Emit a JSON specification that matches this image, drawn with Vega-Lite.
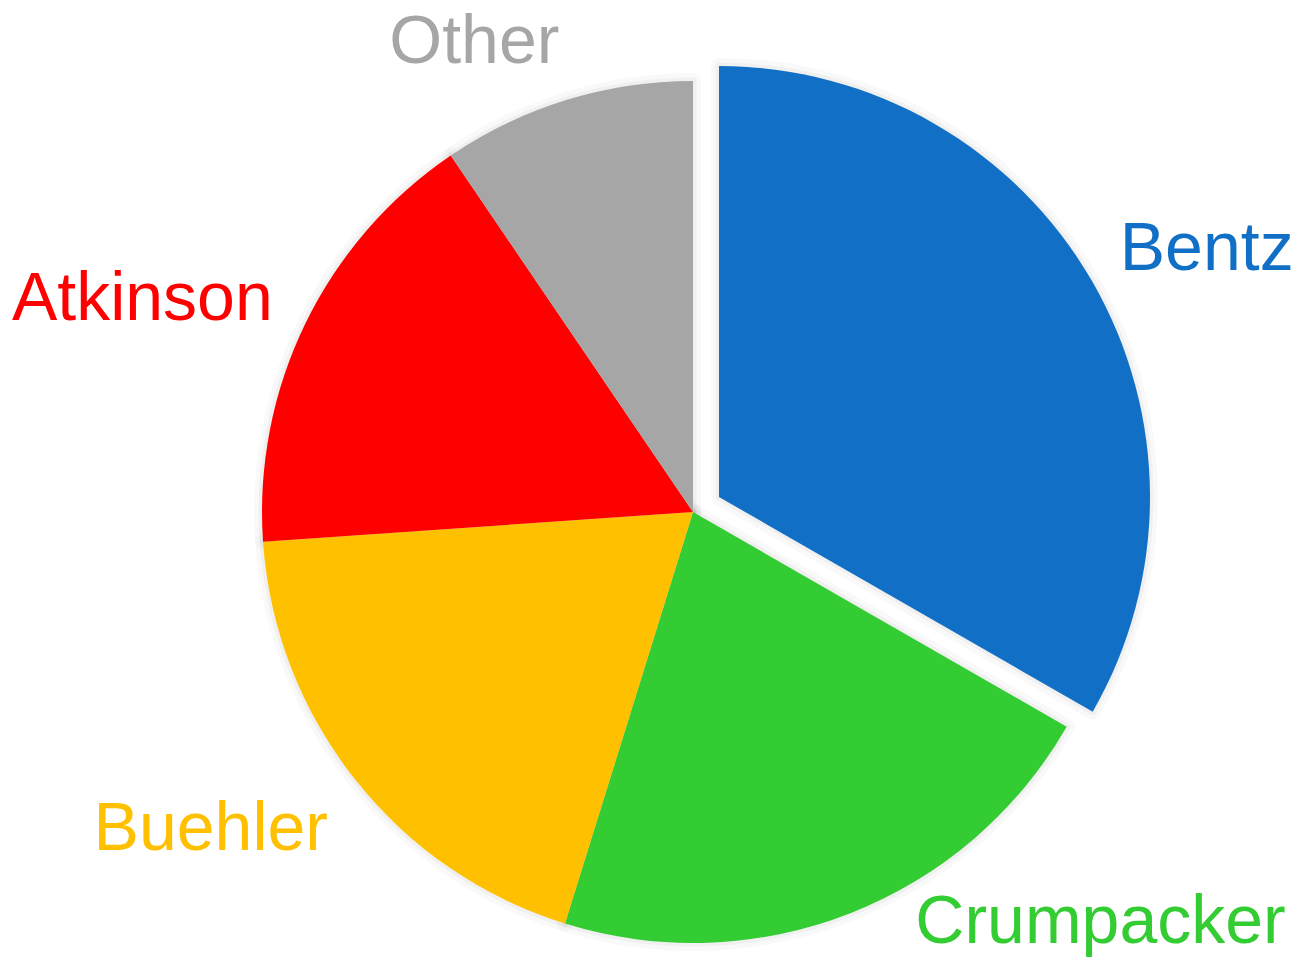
{
  "$schema": "https://vega.github.io/schema/vega-lite/v6.json",
  "width": 1226,
  "height": 894,
  "autosize": {"type": "none"},
  "padding": {"left": 80, "top": 65, "right": 0, "bottom": 0},
  "background": "white",
  "view": {"stroke": null},
  "data": {
    "values": [
      {"candidate": "Bentz", "share": 33.3},
      {"candidate": "Crumpacker", "share": 21.5},
      {"candidate": "Buehler", "share": 19.1},
      {"candidate": "Atkinson", "share": 16.6},
      {"candidate": "Other", "share": 9.5}
    ]
  },
  "transform": [
    {"stack": "share", "groupby": [], "sort": [{"field": "share", "order": "descending"}], "as": ["start", "end"]},
    {"calculate": "(datum.start + datum.end) / 2", "as": "mid"}
  ],
  "encoding": {
    "color": {
      "field": "candidate",
      "type": "nominal",
      "scale": {
        "domain": ["Bentz", "Crumpacker", "Buehler", "Atkinson", "Other"],
        "range": ["#1170C5", "#33CC33", "#FFC000", "#FF0000", "#A6A6A6"]
      },
      "legend": null
    }
  },
  "layer": [
    {
      "transform": [{"filter": "datum.candidate !== 'Bentz'"}],
      "mark": {"type": "arc", "outerRadius": 431, "fillOpacity": 0, "stroke": "#000000", "strokeOpacity": 0.025, "strokeWidth": 16, "strokeJoin": "round"},
      "encoding": {
        "theta": {"field": "start", "type": "quantitative", "scale": {"domain": [0, 100]}},
        "theta2": {"field": "end"}
      }
    },
    {
      "transform": [{"filter": "datum.candidate !== 'Bentz'"}],
      "mark": {"type": "arc", "outerRadius": 431, "fillOpacity": 0, "stroke": "#000000", "strokeOpacity": 0.035, "strokeWidth": 7, "strokeJoin": "round"},
      "encoding": {
        "theta": {"field": "start", "type": "quantitative", "scale": {"domain": [0, 100]}},
        "theta2": {"field": "end"}
      }
    },
    {
      "transform": [{"filter": "datum.candidate === 'Bentz'"}],
      "mark": {"type": "arc", "outerRadius": 431, "xOffset": 26, "yOffset": -15, "fillOpacity": 0, "stroke": "#000000", "strokeOpacity": 0.025, "strokeWidth": 16, "strokeJoin": "round"},
      "encoding": {
        "theta": {"field": "start", "type": "quantitative", "scale": {"domain": [0, 100]}},
        "theta2": {"field": "end"}
      }
    },
    {
      "transform": [{"filter": "datum.candidate === 'Bentz'"}],
      "mark": {"type": "arc", "outerRadius": 431, "xOffset": 26, "yOffset": -15, "fillOpacity": 0, "stroke": "#000000", "strokeOpacity": 0.035, "strokeWidth": 7, "strokeJoin": "round"},
      "encoding": {
        "theta": {"field": "start", "type": "quantitative", "scale": {"domain": [0, 100]}},
        "theta2": {"field": "end"}
      }
    },
    {
      "transform": [{"filter": "datum.candidate !== 'Bentz'"}],
      "mark": {"type": "arc", "outerRadius": 431, "stroke": null},
      "encoding": {
        "theta": {"field": "start", "type": "quantitative", "scale": {"domain": [0, 100]}},
        "theta2": {"field": "end"}
      }
    },
    {
      "transform": [{"filter": "datum.candidate === 'Bentz'"}],
      "mark": {"type": "arc", "outerRadius": 431, "xOffset": 26, "yOffset": -15, "stroke": null},
      "encoding": {
        "theta": {"field": "start", "type": "quantitative", "scale": {"domain": [0, 100]}},
        "theta2": {"field": "end"}
      }
    },
    {
      "transform": [{"filter": "datum.candidate === 'Bentz'"}],
      "mark": {"type": "text", "radius": 560, "dx": 29, "dy": 39, "fontSize": 68, "font": "Liberation Sans", "align": "center", "baseline": "alphabetic"},
      "encoding": {
        "theta": {"field": "mid", "type": "quantitative", "scale": {"domain": [0, 100]}},
        "text": {"field": "candidate"}
      }
    },
    {
      "transform": [{"filter": "datum.candidate === 'Crumpacker'"}],
      "mark": {"type": "text", "radius": 560, "dx": 203, "dy": -90, "fontSize": 68, "font": "Liberation Sans", "align": "center", "baseline": "alphabetic"},
      "encoding": {
        "theta": {"field": "mid", "type": "quantitative", "scale": {"domain": [0, 100]}},
        "text": {"field": "candidate"}
      }
    },
    {
      "transform": [{"filter": "datum.candidate === 'Buehler'"}],
      "mark": {"type": "text", "radius": 560, "dx": -43, "dy": -9, "fontSize": 68, "font": "Liberation Sans", "align": "center", "baseline": "alphabetic"},
      "encoding": {
        "theta": {"field": "mid", "type": "quantitative", "scale": {"domain": [0, 100]}},
        "text": {"field": "candidate"}
      }
    },
    {
      "transform": [{"filter": "datum.candidate === 'Atkinson'"}],
      "mark": {"type": "text", "radius": 560, "dx": -47, "dy": 53, "fontSize": 68, "font": "Liberation Sans", "align": "center", "baseline": "alphabetic"},
      "encoding": {
        "theta": {"field": "mid", "type": "quantitative", "scale": {"domain": [0, 100]}},
        "text": {"field": "candidate"}
      }
    },
    {
      "transform": [{"filter": "datum.candidate === 'Other'"}],
      "mark": {"type": "text", "radius": 560, "dx": -54, "dy": 86, "fontSize": 68, "font": "Liberation Sans", "align": "center", "baseline": "alphabetic"},
      "encoding": {
        "theta": {"field": "mid", "type": "quantitative", "scale": {"domain": [0, 100]}},
        "text": {"field": "candidate"}
      }
    }
  ]
}
